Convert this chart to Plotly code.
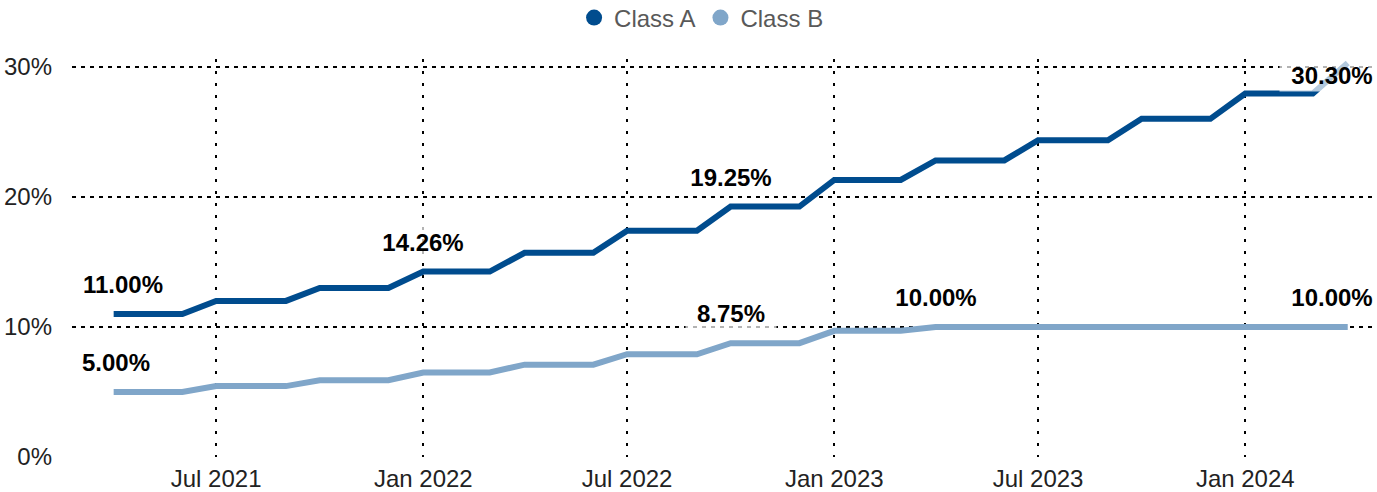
import pandas as pd
import plotly.graph_objects as go

# ---- data ----
dates = pd.date_range("2021-04-01", "2024-04-01", freq="MS")
class_a = [11.00, 11.00, 11.00, 12.00, 12.00, 12.00, 13.00, 13.00, 13.00,
           14.26, 14.26, 14.26, 15.70, 15.70, 15.70, 17.40, 17.40, 17.40,
           19.25, 19.25, 19.25, 21.30, 21.30, 21.30, 22.80, 22.80, 22.80,
           24.35, 24.35, 24.35, 26.00, 26.00, 26.00, 27.95, 27.95, 27.95,
           30.30]
class_b = [5.00, 5.00, 5.00, 5.45, 5.45, 5.45, 5.90, 5.90, 5.90,
           6.50, 6.50, 6.50, 7.10, 7.10, 7.10, 7.90, 7.90, 7.90,
           8.75, 8.75, 8.75, 9.70, 9.70, 9.70, 10.00, 10.00, 10.00,
           10.00, 10.00, 10.00, 10.00, 10.00, 10.00, 10.00, 10.00, 10.00,
           10.00]
labels_a = [0, 9, 18, 36]   # indices of labelled points
labels_b = [0, 18, 24, 36]
series_names = ["Class A", "Class B"]
series_colors = ["#004C8E", "#80A6C9"]

# ---- layout constants ----
W, H = 1377, 492
M_L, M_R, M_T, M_B = 72, 0, 59, 35
Y_MAX = 30.6
X_RANGE = ["2021-02-23", "2024-04-27"]
FONT = "Arial, 'Liberation Sans', sans-serif"
FS = 24

fig = go.Figure()
for name, vals, col in zip(series_names, [class_a, class_b], series_colors):
    fig.add_trace(go.Scatter(x=dates, y=vals, mode="lines", name=name,
                             line=dict(color=col, width=6), showlegend=False,
                             legendgroup=name, hoverinfo="skip"))
    fig.add_trace(go.Scatter(x=[None], y=[None], mode="markers", name=name,
                             marker=dict(color=col, size=19, symbol="circle"),
                             legendgroup=name, showlegend=True))

px_per_unit = (H - M_T - M_B) / Y_MAX
n = len(dates)
for vals, idxs in [(class_a, labels_a), (class_b, labels_b)]:
    for i in idxs:
        v = vals[i]
        txt = f"{v:.2f}%"
        bw = 104 if len(txt) >= 6 else 90
        yshift = min(30, (Y_MAX - v) * px_per_unit - 16)
        if i == 0:
            xanchor, xshift = "left", -44
        elif i == n - 1:
            xanchor, xshift = "right", 37
        else:
            xanchor, xshift = "center", 0
        fig.add_annotation(x=dates[i], y=v, text=txt, showarrow=False,
                           xanchor=xanchor, yanchor="middle",
                           xshift=xshift, yshift=yshift,
                           width=bw, height=32, borderpad=0, align="center",
                           bgcolor="rgba(255,255,255,0.7)",
                           font=dict(family=FONT, size=FS, color="#000000",
                                     weight="bold"))

fig.update_layout(
    width=W, height=H,
    margin=dict(l=M_L, r=M_R, t=M_T, b=M_B, autoexpand=False),
    paper_bgcolor="white", plot_bgcolor="white",
    font=dict(family=FONT, size=FS, color="#222222"),
    legend=dict(orientation="h", xref="container", yref="container",
                x=0.5095, xanchor="center", y=(H - 18) / H, yanchor="middle",
                font=dict(family=FONT, size=FS, color="#595959"),
                itemsizing="trace", tracegroupgap=0, itemwidth=30),
    xaxis=dict(type="date", range=X_RANGE, dtick="M6", tick0="2021-07-01",
               tickformat="%b %Y", showgrid=True, gridcolor="#000000",
               gridwidth=2, griddash="3px,9px", zeroline=False,
               showline=False, ticks="", ticklabelstandoff=5,
               tickfont=dict(family=FONT, size=FS, color="#222222")),
    yaxis=dict(range=[0, Y_MAX], dtick=10, ticksuffix="%", showgrid=True,
               gridcolor="#000000", gridwidth=2, griddash="4px,5px",
               zeroline=False, showline=False, ticks="",
               ticklabelstandoff=19,
               tickfont=dict(family=FONT, size=FS, color="#222222")),
)

fig.write_html("out.html",
               config={"displayModeBar": False},
               post_script="document.body.style.margin='0';"
                           "document.body.style.padding='0';"
                           "document.body.style.overflow='hidden';")
